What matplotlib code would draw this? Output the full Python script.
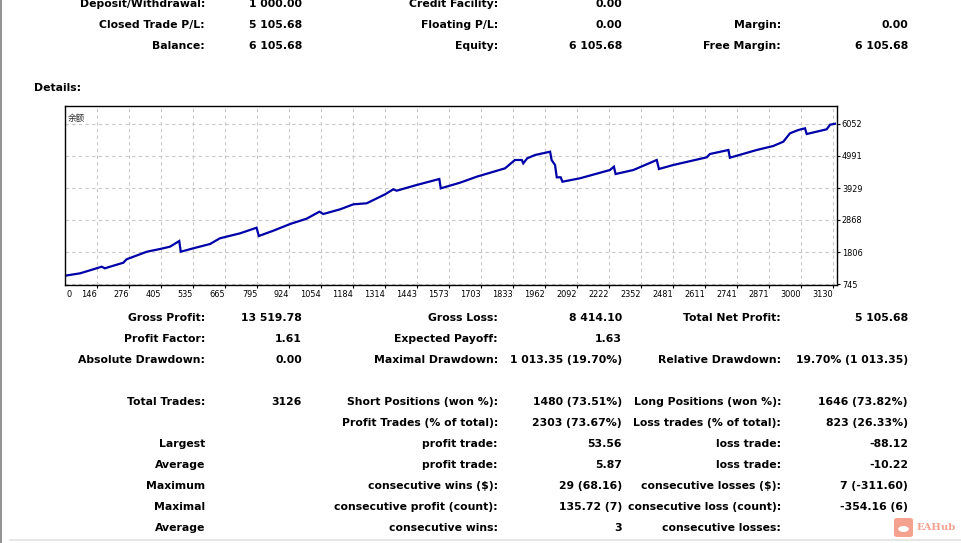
import numpy as np
import matplotlib
matplotlib.use("Agg")
import matplotlib.pyplot as plt
from matplotlib.patches import FancyBboxPatch, Circle
from matplotlib.lines import Line2D
import matplotlib.transforms as mtransforms

# balance curve (trade number, balance)
trade_no = [0, 76, 130, 164, 177, 198, 252, 265, 347, 401, 441, 479, 485, 536, 604,
            644, 726, 793, 802, 861, 929, 996, 1048, 1064, 1132, 1186, 1240, 1315,
            1348, 1362, 1443, 1535, 1541, 1619, 1687, 1802, 1842, 1870, 1876, 1892,
            1924, 1985, 1991, 2005, 2012, 2028, 2035, 2106, 2228, 2244, 2251, 2323,
            2418, 2427, 2485, 2621, 2634, 2709, 2715, 2824, 2891, 2932, 2959, 2993,
            3020, 3027, 3108, 3122, 3142]
balance = [1000, 1099, 1232, 1319, 1265, 1319, 1451, 1564, 1816, 1906, 1982, 2171,
           1816, 1929, 2072, 2261, 2426, 2612, 2337, 2513, 2735, 2911, 3143, 3067,
           3222, 3388, 3422, 3720, 3886, 3840, 4029, 4228, 3919, 4105, 4304, 4582,
           4858, 4858, 4748, 4914, 5024, 5133, 4858, 4692, 4284, 4284, 4138, 4251,
           4526, 4636, 4393, 4526, 4858, 4559, 4692, 4947, 5057, 5190, 4934, 5190,
           5322, 5465, 5743, 5853, 5909, 5720, 5876, 6029, 6060]

x_labels = ["146", "276", "405", "535", "665", "795", "924", "1054", "1184", "1314",
            "1443", "1573", "1703", "1833", "1962", "2092", "2222", "2352", "2481",
            "2611", "2741", "2871", "3000", "3130"]
y_ticks = [6052, 4991, 3929, 2868, 1806, 745]

# header rows: (label, value) per column
head_rows = [
    [("Deposit/Withdrawal:", "1 000.00"), ("Credit Facility:", "0.00"), None],
    [("Closed Trade P/L:", "5 105.68"), ("Floating P/L:", "0.00"), ("Margin:", "0.00")],
    [("Balance:", "6 105.68"), ("Equity:", "6 105.68"), ("Free Margin:", "6 105.68")],
]

stat_rows = [
    [("Gross Profit:", "13 519.78"), ("Gross Loss:", "8 414.10"), ("Total Net Profit:", "5 105.68")],
    [("Profit Factor:", "1.61"), ("Expected Payoff:", "1.63"), None],
    [("Absolute Drawdown:", "0.00"), ("Maximal Drawdown:", "1 013.35 (19.70%)"),
     ("Relative Drawdown:", "19.70% (1 013.35)")],
]

trade_rows = [
    [("Total Trades:", "3126"), ("Short Positions (won %):", "1480 (73.51%)"),
     ("Long Positions (won %):", "1646 (73.82%)")],
    [None, ("Profit Trades (% of total):", "2303 (73.67%)"),
     ("Loss trades (% of total):", "823 (26.33%)")],
    [("Largest", ""), ("profit trade:", "53.56"), ("loss trade:", "-88.12")],
    [("Average", ""), ("profit trade:", "5.87"), ("loss trade:", "-10.22")],
    [("Maximum", ""), ("consecutive wins ($):", "29 (68.16)"),
     ("consecutive losses ($):", "7 (-311.60)")],
    [("Maximal", ""), ("consecutive profit (count):", "135.72 (7)"),
     ("consecutive loss (count):", "-354.16 (6)")],
    [("Average", ""), ("consecutive wins:", "3"), ("consecutive losses:", "")],
]

W, H = 961, 543
fig = plt.figure(figsize=(W / 100, H / 100), dpi=100)
fig.patch.set_facecolor("white")


def px(x, y):
    return x / W, 1 - y / H


# column anchors (right edges, pixels)
label_x = [205, 498, 781]
value_x = [302, 622, 908]
font = dict(family="DejaVu Sans", fontsize=7.8, fontweight="bold", color="#000000")


def draw_rows(rows, y0, step=21):
    for i, row in enumerate(rows):
        y = y0 + i * step
        for j, cell in enumerate(row):
            if cell is None:
                continue
            lab, val = cell
            fig.text(*px(label_x[j], y), lab, ha="right", va="center", **font)
            if val:
                fig.text(*px(value_x[j], y), val, ha="right", va="center", **font)


draw_rows(head_rows, 4)
fig.text(*px(34, 88), "Details:", ha="left", va="center", **font)
draw_rows(stat_rows, 318)
draw_rows(trade_rows, 402)

# chart
ax = fig.add_axes([65 / W, 1 - 285 / H, 772 / W, 179 / H])
x_left, x_right = 15, 3150
step = 129.9
x_pos = [x_left + 131 + i * step for i in range(len(x_labels))]
ax.plot(trade_no, balance, color="#0000a8", lw=1.6, solid_joinstyle="miter")
ax.set_xlim(x_left, x_right)
ax.set_ylim(712, 6649)

ax.set_xticks(x_pos)
ax.set_xticklabels(x_labels, fontsize=5.9, family="DejaVu Sans")
offset = mtransforms.ScaledTranslation(-2 / 100, 0, fig.dpi_scale_trans)
for lbl in ax.get_xticklabels():
    lbl.set_horizontalalignment("right")
    lbl.set_transform(lbl.get_transform() + offset)
ax.text(0.002, -0.03, "0", transform=ax.transAxes, ha="left", va="top",
        fontsize=5.9, family="DejaVu Sans")

ax.yaxis.tick_right()
ax.set_yticks(y_ticks)
ax.set_yticklabels([str(v) for v in y_ticks], fontsize=5.9, family="DejaVu Sans")
ax.tick_params(axis="x", length=2, width=0.8, pad=1.5, color="#000000")
ax.tick_params(axis="y", length=2, width=0.8, pad=1.5, color="#000000")

ax.grid(True, color="#c8c8c8", ls=(0, (3, 3)), lw=0.8)
for sp in ax.spines.values():
    sp.set_color("#000000")
    sp.set_linewidth(1.0)

ax.text(0.004, 0.955, "余额", transform=ax.transAxes, ha="left", va="top",
        fontsize=6.2, family=["Noto Sans CJK SC", "DejaVu Sans"], color="#303030")

# frame lines of the report page
fig.add_artist(Line2D([1 / W, 1 / W], [0, 1], color="#7f7f7f", lw=1.2))
fig.add_artist(Line2D([10 / W, 1], [1 - 540 / H, 1 - 540 / H], color="#e2e2e2", lw=1.2))

# watermark
wm_color = "#f4a28f"
fig.add_artist(FancyBboxPatch(px(894, 537), 19 / W, 19 / H,
                              boxstyle="round,pad=0,rounding_size=0.004",
                              transform=fig.transFigure, fc=wm_color, ec="none"))
fig.add_artist(Circle(px(903.5, 529), 0.0055, transform=fig.transFigure,
                      fc="white", ec="none"))
fig.text(*px(917, 527), "EAHub", ha="left", va="center", fontsize=7.2,
         family="DejaVu Serif", fontweight="bold", color=wm_color)

fig.savefig("out.png", dpi=100)
